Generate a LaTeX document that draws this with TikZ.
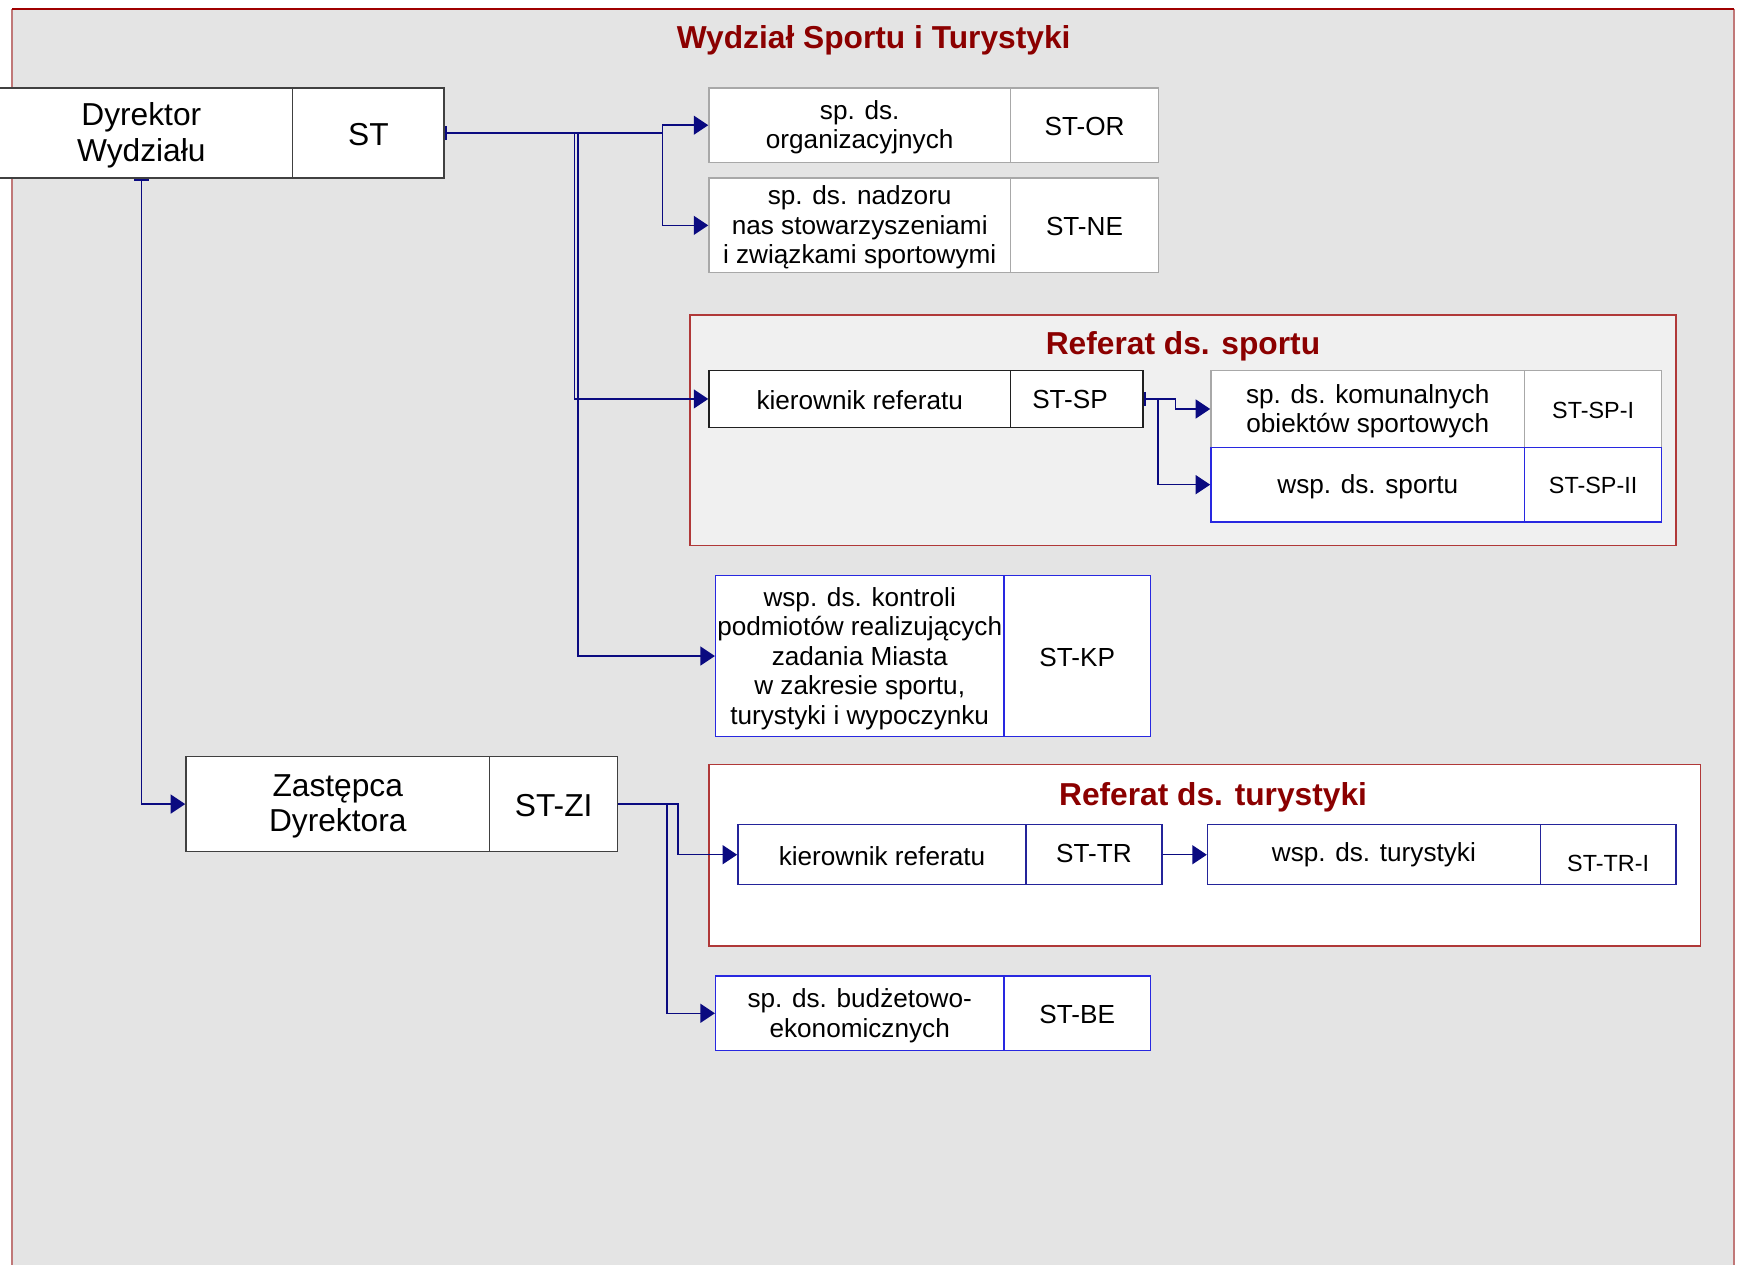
\documentclass[tikz,border=0pt]{standalone}
\usepackage{fontspec}
\setmainfont{Liberation Sans}
\usetikzlibrary{arrows.meta,calc}
\definecolor{bgc}{HTML}{E4E4E4}
\definecolor{reffill}{HTML}{F0F0F0}
\definecolor{darkred}{HTML}{8B0000}
\definecolor{framered}{HTML}{A00000}
\definecolor{framepink}{HTML}{C07878}
\definecolor{refred}{HTML}{B03838}
\definecolor{conncol}{HTML}{0A0A80}
\definecolor{bxdark}{HTML}{404040}
\definecolor{bxgray}{HTML}{A8A8A8}
\definecolor{bxblack}{HTML}{202020}
\definecolor{bxblue}{HTML}{2828E0}
\definecolor{bxnavy}{HTML}{24249A}
\tikzset{
  box/.style={draw, fill=white, line width=1.2pt, rectangle, inner sep=0pt},
  smalltxt/.style={font=\fontsize{23.5}{26.5}\selectfont},
  bigtxt/.style={font=\fontsize{28.5}{32}\selectfont},
  codetxt/.style={font=\fontsize{21}{24}\selectfont},
  ttl/.style={font=\fontsize{28.5}{32}\selectfont\bfseries, text=darkred},
  conn/.style={draw=conncol, line width=1.3pt, -{Triangle[length=13pt,width=17pt]}},
  connbar/.style={draw=conncol, line width=1.3pt, {Bar[width=13pt,line width=2pt]}-{Triangle[length=13pt,width=17pt]}},
}
% \bx{name}{colour}{font style}{cx}{cy}{w}{h}{text down shift}{text}
\newcommand\bx[9]{%
  \node[box, draw=#2, minimum width=#6pt, minimum height=#7pt] (#1) at (#4,#5) {};
  \node[#3, align=center, inner sep=0pt, text=black] (#1t) at ([yshift=-#8pt]#1.center) {#9};
}
\begin{document}
\begin{tikzpicture}[x=1pt,y=-1pt]
\useasboundingbox (0,0) rectangle (1568,1136);
\clip (0,0) rectangle (1568,1136);
% outer frame
\fill[bgc] (11,8) rectangle (1558,1150);
\draw[framepink, line width=2pt] (11,1150) -- (11,8);
\draw[framepink, line width=2pt] (1558,8) -- (1558,1150);
\draw[framered, line width=2pt] (11,8) -- (1558,8);
\node[ttl] (title) at (785,36) {Wydział Sportu i Turystyki};

% Referat frames
\draw[refred, fill=reffill, line width=1.2pt] (620,283) rectangle (1506,490);
\node[ttl] (tsport) at (1063,311) {Referat ds. sportu};
\draw[refred, fill=white, line width=1.2pt] (637,687) rectangle (1528,850);
\node[ttl] (ttur) at (1090,716) {Referat ds. turystyki};

% Dyrektor
\bx{dyrL}{bxdark}{bigtxt}{127}{119.5}{272}{81}{2}{Dyrektor\\Wydziału}
\bx{dyrR}{bxdark}{bigtxt}{331}{119.5}{136}{81}{1}{ST}

% ST-OR
\bx{orL}{bxgray}{smalltxt}{772.5}{112.5}{271}{67}{2}{sp. ds.\\organizacyjnych}
\bx{orR}{bxgray}{smalltxt}{974.5}{112.5}{133}{67}{1}{ST-OR}
% ST-NE
\bx{neL}{bxgray}{smalltxt}{772.5}{202.5}{271}{85}{2}{sp. ds. nadzoru\\nas stowarzyszeniami\\i związkami sportowymi}
\bx{neR}{bxgray}{smalltxt}{974.5}{202.5}{133}{85}{1}{ST-NE}

% ST-SP
\bx{sspL}{bxblack}{smalltxt}{772.5}{358.5}{271}{51}{1.5}{kierownik referatu}
\bx{sspR}{bxblack}{smalltxt}{967.5}{358.5}{119}{51}{0.5}{ST-SP\hspace*{12pt}}
\bx{komL}{bxgray}{smalltxt}{1229}{367.5}{282}{69}{2}{sp. ds. komunalnych\\obiektów sportowych}
\bx{komR}{bxgray}{codetxt}{1431.5}{367.5}{123}{69}{1}{ST-SP-I}
\bx{wspL}{bxblue}{smalltxt}{1229}{435.5}{282}{67}{1.5}{wsp. ds. sportu}
\bx{wspR}{bxblue}{codetxt}{1431.5}{435.5}{123}{67}{1}{ST-SP-II}

% ST-KP
\bx{kpL}{bxblue}{smalltxt}{772.5}{589.5}{259}{145}{2}{wsp. ds. kontroli\\podmiotów realizujących\\zadania Miasta\\w zakresie sportu,\\turystyki i wypoczynku}
\bx{kpR}{bxblue}{smalltxt}{968}{589.5}{132}{145}{1}{ST-KP}

% Zastepca
\bx{zaL}{bxdark}{bigtxt}{303.5}{722.5}{273}{85}{2}{Zastępca\\Dyrektora}
\bx{zaR}{bxdark}{bigtxt}{497.5}{722.5}{115}{85}{1}{ST-ZI}

% ST-TR
\bx{trL}{bxnavy}{smalltxt}{792.5}{768}{259}{54}{1.5}{kierownik referatu}
\bx{trR}{bxnavy}{smalltxt}{983}{768}{122}{54}{-1.5}{ST-TR}
\bx{wtL}{bxnavy}{smalltxt}{1234.5}{768}{299}{54}{0}{wsp. ds. turystyki}
\bx{wtR}{bxnavy}{codetxt}{1445}{768}{122}{54}{8}{ST-TR-I}

% ST-BE
\bx{beL}{bxblue}{smalltxt}{772.5}{910.5}{259}{67}{2}{sp. ds. budżetowo-\\ekonomicznych}
\bx{beR}{bxblue}{smalltxt}{968}{910.5}{132}{67}{1}{ST-BE}

% connectors from ST
\draw[connbar] (dyrR.east) -| ([xshift=-41pt]orL.west) -- (orL.west);
\draw[conn] (dyrR.east) -| ([xshift=-41pt]neL.west) -- (neL.west);
\draw[conn] (dyrR.east) -| ([xshift=-120pt]sspL.west) -- (sspL.west);
\draw[conn] (dyrR.east) -| ([xshift=-123pt]kpL.west) -- (kpL.west);
% Dyrektor to Zastepca
\draw[connbar] (dyrL.south) |- (zaL.west);
% ST-SP
\draw[connbar] (sspR.east) -| ([xshift=-31pt]komL.west) -- (komL.west);
\draw[conn] (sspR.east) -| ([xshift=-47pt]wspL.west) -- (wspL.west);
% ST-ZI
\draw[conn] (zaR.east) -| ([xshift=-53pt]trL.west) -- (trL.west);
\draw[conn] (zaR.east) -| ([xshift=-43pt]beL.west) -- (beL.west);
% ST-TR
\draw[conn] (trR.east) -- (wtL.west);
\end{tikzpicture}
\end{document}
